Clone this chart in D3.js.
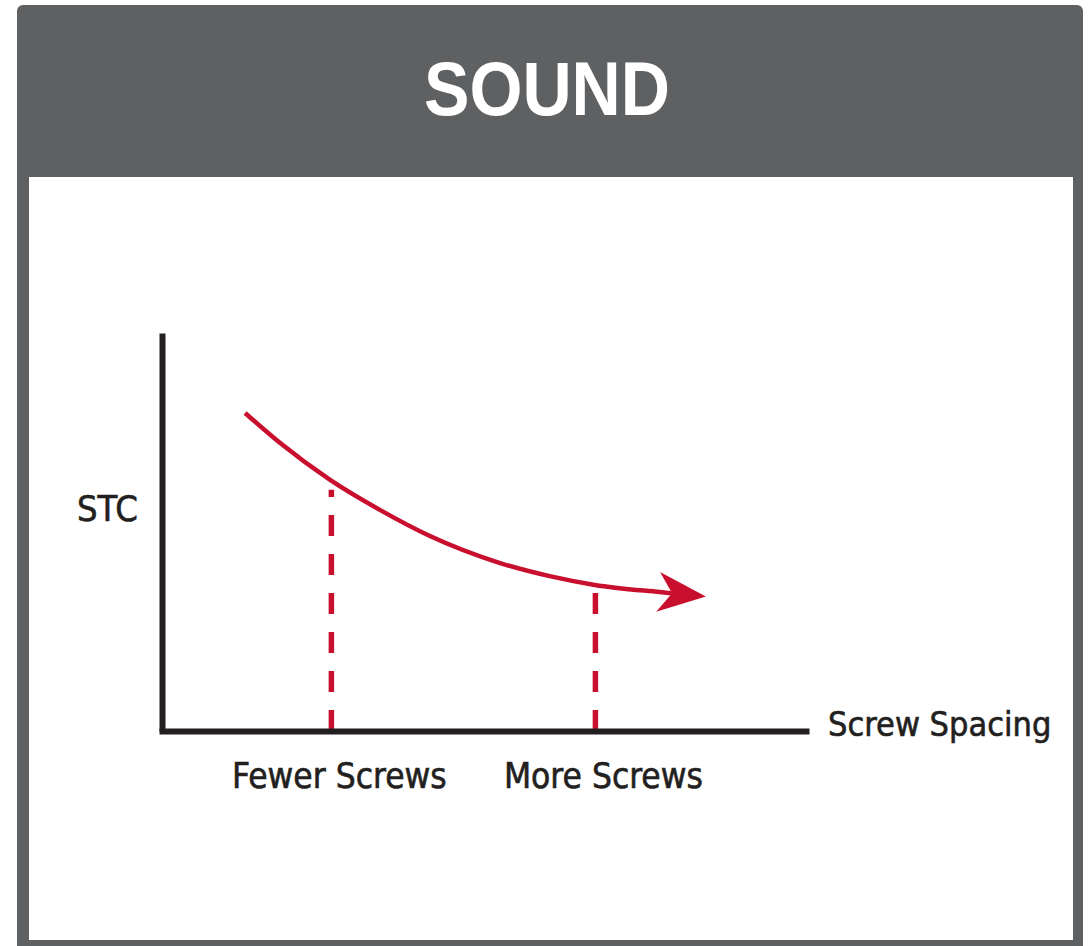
<!DOCTYPE html>
<html>
<head>
<meta charset="utf-8">
<script src="https://cdn.jsdelivr.net/npm/d3@7"></script>
<style>
  html, body { margin: 0; padding: 0; background: #fff; }
  .lbl { font-family: 'Liberation Sans Narrow', 'DejaVu Sans Condensed', 'Liberation Sans', sans-serif; fill: #231f20; stroke: #231f20; stroke-width: 0.6px; }
</style>
</head>
<body>
<div id="chart"></div>
<script>
// curve: STC vs screw spacing (arbitrary 0-100 units)
const curveX = [12.9, 18.3, 26.1, 33.9, 41.6, 52.5, 60.2, 67.2, 77.3, 79.2];
const curveY = [79.9, 72.4, 63.1, 55.5, 49.0, 42.2, 38.9, 36.7, 34.9, 34.6];
// dashed markers for the two screw counts
const markX = [26.3, 67.3];
const markY = [60.6, 36.4];
const markLabels = ['Fewer Screws', 'More Screws'];
const title = 'SOUND';
const yTitle = 'STC';
const xTitle = 'Screw Spacing';

const W = 1091, H = 946;
const red = '#c8102e', ink = '#231f20', gray = '#5f6062';

const svg = d3.select('#chart')
  .append('svg')
  .attr('width', W)
  .attr('height', H);

// frame
svg.append('rect')
  .attr('x', 17).attr('y', 5)
  .attr('width', 1066).attr('height', 960)
  .attr('rx', 6)
  .attr('fill', gray);
svg.append('rect')
  .attr('x', 29).attr('y', 177)
  .attr('width', 1044).attr('height', 763)
  .attr('fill', '#fff');

svg.append('text')
  .attr('x', 547).attr('y', 115)
  .attr('text-anchor', 'middle')
  .attr('font-family', "'Liberation Sans', Arial, sans-serif")
  .attr('font-weight', 'bold')
  .attr('font-size', 76)
  .attr('textLength', 246)
  .attr('lengthAdjust', 'spacingAndGlyphs')
  .attr('fill', '#fff')
  .text(title);

const x = d3.scaleLinear().domain([0, 100]).range([162, 806]);
const y = d3.scaleLinear().domain([0, 100]).range([731, 333]);

// dashed drop lines
svg.selectAll('.mark')
  .data(markX)
  .enter().append('line')
    .attr('class', 'mark')
    .attr('x1', d => x(d)).attr('x2', d => x(d))
    .attr('y1', y(0))
    .attr('y2', (d, i) => y(markY[i]))
    .attr('stroke', red)
    .attr('stroke-width', 5.5)
    .attr('stroke-dasharray', '21,18');

// axes
svg.append('g')
  .attr('transform', `translate(0, ${y(0)})`)
  .call(d3.axisBottom(x).tickSize(0).tickSizeOuter(0).tickValues([]))
  .call(g => g.select('.domain')
    .attr('stroke', ink).attr('stroke-width', 6).attr('stroke-linecap', 'square'));

svg.append('g')
  .attr('transform', `translate(${x(0)}, 0)`)
  .call(d3.axisLeft(y).tickSize(0).tickSizeOuter(0).tickValues([]))
  .call(g => g.select('.domain')
    .attr('stroke', ink).attr('stroke-width', 6));

// arrow head
svg.append('defs').append('marker')
  .attr('id', 'head')
  .attr('markerUnits', 'userSpaceOnUse')
  .attr('viewBox', '-16 -22 52 44')
  .attr('markerWidth', 52).attr('markerHeight', 44)
  .attr('refX', 0).attr('refY', 0)
  .attr('orient', 'auto')
  .append('path')
    .attr('d', 'M-14,-20L34,0L-14,20L0,0Z')
    .attr('fill', red);

const line = d3.line()
  .x(d => x(d[0]))
  .y(d => y(d[1]))
  .curve(d3.curveMonotoneX);

svg.append('path')
  .datum(d3.zip(curveX, curveY))
  .attr('d', line)
  .attr('fill', 'none')
  .attr('stroke', red)
  .attr('stroke-width', 4.5)
  .attr('marker-end', 'url(#head)');

// labels
svg.selectAll('.tick-lbl')
  .data(markLabels)
  .enter().append('text')
    .attr('class', 'lbl tick-lbl')
    .attr('x', (d, i) => x(markX[i]) + 8)
    .attr('y', 788)
    .attr('text-anchor', 'middle')
    .attr('font-size', 35)
    .text(d => d);

svg.append('text')
  .attr('class', 'lbl')
  .attr('x', 77).attr('y', 521)
  .attr('font-size', 36)
  .text(yTitle);

svg.append('text')
  .attr('class', 'lbl')
  .attr('x', 828).attr('y', 736)
  .attr('font-size', 34)
  .text(xTitle);
</script>
</body>
</html>
